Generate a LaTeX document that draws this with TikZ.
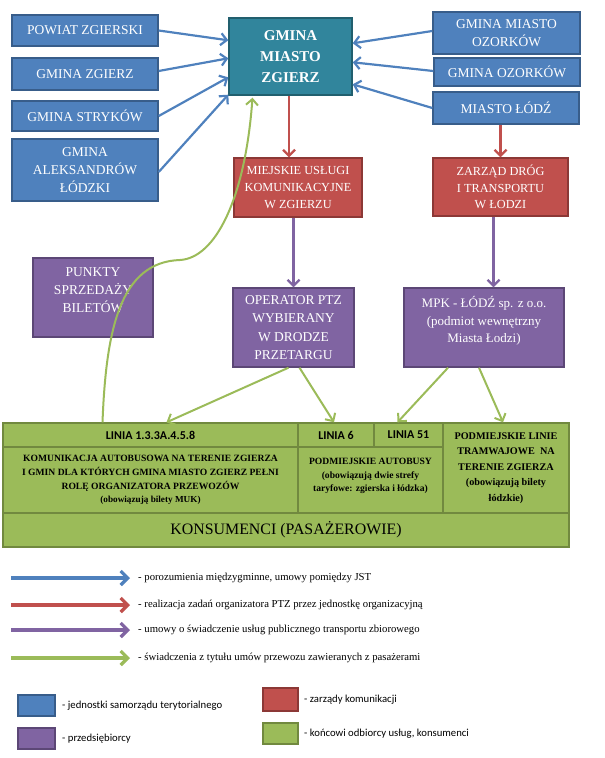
\documentclass[tikz,border=0pt]{standalone}
\usepackage{fontspec}
\setmainfont{Liberation Serif}
\newfontfamily\calibfont{Carlito}
\usetikzlibrary{arrows.meta}
\definecolor{jstblue}{HTML}{4F81BD}
\definecolor{jstline}{HTML}{385D8A}
\definecolor{gmteal}{HTML}{31859C}
\definecolor{gmline}{HTML}{215F6E}
\definecolor{zarred}{HTML}{C0504D}
\definecolor{zarline}{HTML}{8C3836}
\definecolor{przpurple}{HTML}{8064A2}
\definecolor{przline}{HTML}{5C4776}
\definecolor{konsgreen}{HTML}{9BBB59}
\definecolor{konsline}{HTML}{71893F}

\tikzset{
	box/.style={rectangle,line width=1.4pt,inner sep=0pt,align=center,text=white},
	jst/.style={box,fill=jstblue,draw=jstline,font=\fontsize{13.5}{18.3}\selectfont},
	gmina/.style={box,fill=gmteal,draw=gmline,font=\bfseries\fontsize{15}{21}\selectfont},
	zarzad/.style={box,fill=zarred,draw=zarline,font=\fontsize{12.3}{16.7}\selectfont},
	przeds/.style={box,fill=przpurple,draw=przline,font=\fontsize{13.5}{18.3}\selectfont},
	kons/.style={box,fill=konsgreen,draw=konsline,text=black},
	linia/.style={kons,font=\calibfont\bfseries\fontsize{12}{14}\selectfont},
	opis/.style={kons,font=\bfseries\fontsize{9.6}{13.7}\selectfont},
	tip/.style={-{Straight Barb[length=6pt,width=12pt]}},
	blue arrow/.style={tip,draw=jstblue,line width=2.2pt},
	red arrow/.style={tip,draw=zarred,line width=2.2pt},
	purple arrow/.style={tip,draw=przpurple,line width=2.2pt},
	green arrow/.style={tip,draw=konsgreen,line width=2pt},
	legend arrow/.style={-{Straight Barb[length=7pt,width=14pt]},line width=3.2pt},
	legend text/.style={anchor=west,inner sep=0pt,font=\fontsize{10.7}{12}\selectfont},
	legend box/.style={rectangle,line width=1.4pt,minimum width=37pt,minimum height=21pt,inner sep=0pt},
	box text/.style={anchor=west,inner sep=0pt,font=\calibfont\fontsize{10.7}{12}\selectfont}
}

\begin{document}
\begin{tikzpicture}[x=1pt,y=-1pt]
	\useasboundingbox (0,0) rectangle (605,758);

	% jednostki samorzadu terytorialnego
	\node[jst,minimum width=146pt,minimum height=31pt] (powiat) at (85,30.5) {POWIAT ZGIERSKI};
	\node[jst,minimum width=146pt,minimum height=32pt] (zgierz) at (85,74) {GMINA ZGIERZ};
	\node[jst,minimum width=146pt,minimum height=30pt] (strykow) at (85,116) {GMINA STRYKÓW};
	\node[jst,minimum width=146pt,minimum height=62pt] (aleks) at (85,170) {GMINA\\ALEKSANDRÓW\\ŁÓDZKI};
	\node[gmina,minimum width=123pt,minimum height=77pt] (gmz) at (290.5,56.5) {GMINA\\MIASTO\\ZGIERZ};
	\node[jst,minimum width=147pt,minimum height=42pt] (ozmiasto) at (506.5,33) {GMINA MIASTO\\OZORKÓW};
	\node[jst,minimum width=146pt,minimum height=28pt] (ozgmina) at (507,72) {GMINA OZORKÓW};
	\node[jst,minimum width=146pt,minimum height=32pt] (lodz) at (506,108) {MIASTO ŁÓDŹ};

	% zarzady komunikacji
	\node[zarzad,minimum width=128pt,minimum height=59pt] (muk) at (298,187.5) {MIEJSKIE USŁUGI\\KOMUNIKACYJNE\\W ZGIERZU};
	\node[zarzad,minimum width=135pt,minimum height=58pt] (zdit) at (500.5,187) {ZARZĄD DRÓG\\I TRANSPORTU\\W ŁODZI};

	% przedsiebiorcy
	\node[przeds,minimum width=120pt,minimum height=79pt,text depth=15pt] (punkty) at (93,297.5) {PUNKTY\\SPRZEDAŻY\\BILETÓW};
	\node[przeds,minimum width=121pt,minimum height=79pt] (operator) at (293.5,327.5) {OPERATOR PTZ\\WYBIERANY\\W DRODZE\\PRZETARGU};
	\node[przeds,minimum width=160pt,minimum height=79pt,text depth=16pt,font=\fontsize{13}{17.5}\selectfont] (mpk) at (484,327.5) {MPK - ŁÓDŹ sp. z o.o.\\(podmiot wewnętrzny\\Miasta Łodzi)};

	% konsumenci
	\node[linia,minimum width=295pt,minimum height=24pt] (l1h) at (150.5,435) {LINIA 1.3.3A.4.5.8};
	\node[opis,minimum width=295pt,minimum height=66pt] (l1b) at (150.5,480) {KOMUNIKACJA AUTOBUSOWA NA TERENIE ZGIERZA\\I GMIN DLA KTÓRYCH GMINA MIASTO ZGIERZ PEŁNI\\ROLĘ ORGANIZATORA PRZEWOZÓW\\{\fontsize{9.2}{13}\selectfont(obowiązują bilety MUK)}};
	\node[linia,minimum width=76pt,minimum height=24pt] (l6h) at (336,435) {LINIA 6};
	\node[linia,minimum width=69pt,minimum height=24pt] (l51h) at (408.5,435) {LINIA 51};
	\node[opis,minimum width=145pt,minimum height=66pt,text depth=10pt] (l6b) at (370.5,480) {PODMIEJSKIE AUTOBUSY\\(obowiązują dwie strefy\\taryfowe: zgierska i łódzka)};
	\node[opis,minimum width=126pt,minimum height=90pt,font=\bfseries\fontsize{10.2}{15.4}\selectfont] (tram) at (506,468) {PODMIEJSKIE LINIE\\TRAMWAJOWE~ NA\\TERENIE ZGIERZA\\(obowiązują bilety\\łódzkie)};
	\node[kons,minimum width=566pt,minimum height=34pt,font=\fontsize{15.9}{18}\selectfont] (konsum) at (286,530) {KONSUMENCI (PASAŻEROWIE)};

	% porozumienia
	\draw[blue arrow] (powiat.east) -- ([yshift=-23pt]gmz.north west);
	\draw[blue arrow] ([yshift=3pt]zgierz.east) -- ([yshift=-41pt]gmz.north west);
	\draw[blue arrow] (strykow.east) -- ([yshift=-60pt]gmz.north west);
	\draw[blue arrow] ([yshift=-2pt]aleks.east) -- ([yshift=1pt]gmz.south west);
	\draw[blue arrow] ([yshift=2pt]ozmiasto.west) -- ([yshift=-26pt]gmz.north east);
	\draw[blue arrow] ([yshift=1pt]ozgmina.west) -- ([yshift=-45pt]gmz.north east);
	\draw[blue arrow] (lodz.west) -- ([yshift=-67pt]gmz.north east);

	% organizator
	\draw[red arrow] ([xshift=-1.5pt]gmz.south) -- ([xshift=-1.5pt]gmz.south |- muk.north);
	\draw[red arrow] (zdit.north |- lodz.south) -- (zdit.north);

	% umowy z przewoznikami
	\draw[purple arrow] (operator.north |- muk.south) -- (operator.north);
	\draw[purple arrow] ([xshift=-7pt]zdit.south) -- ([xshift=-7pt]zdit.south |- mpk.north);

	% przewoz pasazerow
	\coordinate (bend) at (180,260);
	\draw[green arrow] ([xshift=-48pt]l1h.north) .. controls (106,330) and (120,262) .. (bend)
		.. controls (215,258) and (245,200) .. ([xshift=-38pt,yshift=-2pt]gmz.south);
	\draw[green arrow] ([xshift=-5pt]operator.south) -- ([xshift=16pt]l1h.north);
	\draw[green arrow] ([xshift=6pt]operator.south) -- ([xshift=-2pt]l6h.north);
	\draw[green arrow] ([xshift=-36pt]mpk.south) -- ([xshift=-11pt]l51h.north);
	\draw[green arrow] ([xshift=-5pt]mpk.south) -- ([xshift=-3pt]tram.north);

	% legenda
	\node[legend text] (lt1) at (138,578) {- porozumienia międzygminne, umowy pomiędzy JST};
	\node[legend text] (lt2) at (138,605) {- realizacja zadań organizatora PTZ przez jednostkę organizacyjną};
	\node[legend text] (lt3) at (138,630) {- umowy o świadczenie usług publicznego transportu zbiorowego};
	\node[legend text] (lt4) at (138,658) {- świadczenia z tytułu umów przewozu zawieranych z pasażerami};
	\coordinate (la1) at (11,578);
	\coordinate (la2) at (11,605);
	\coordinate (la3) at (11,630);
	\coordinate (la4) at (11,658);
	\draw[legend arrow,draw=jstblue] (la1) -- ([xshift=-8pt]lt1.west);
	\draw[legend arrow,draw=zarred] (la2) -- ([xshift=-8pt]lt2.west);
	\draw[legend arrow,draw=przpurple] (la3) -- ([xshift=-8pt]lt3.west);
	\draw[legend arrow,draw=konsgreen] (la4) -- ([xshift=-8pt]lt4.west);

	\node[legend box,fill=jstblue,draw=jstline] (lb1) at (36.5,705.5) {};
	\node[legend box,fill=przpurple,draw=przline] (lb2) at (36.5,738.5) {};
	\node[legend box,fill=zarred,draw=zarline,minimum width=35pt,minimum height=23pt] (lb3) at (280.5,699.5) {};
	\node[legend box,fill=konsgreen,draw=konsline,minimum width=35pt] (lb4) at (280.5,733.5) {};
	\node[box text] at (62,705.5) {- jednostki samorządu terytorialnego};
	\node[box text] at (62,738.5) {- przedsiębiorcy};
	\node[box text] at (304,699.5) {- zarządy komunikacji};
	\node[box text] at (304,733.5) {- końcowi odbiorcy usług, konsumenci};
\end{tikzpicture}
\end{document}
